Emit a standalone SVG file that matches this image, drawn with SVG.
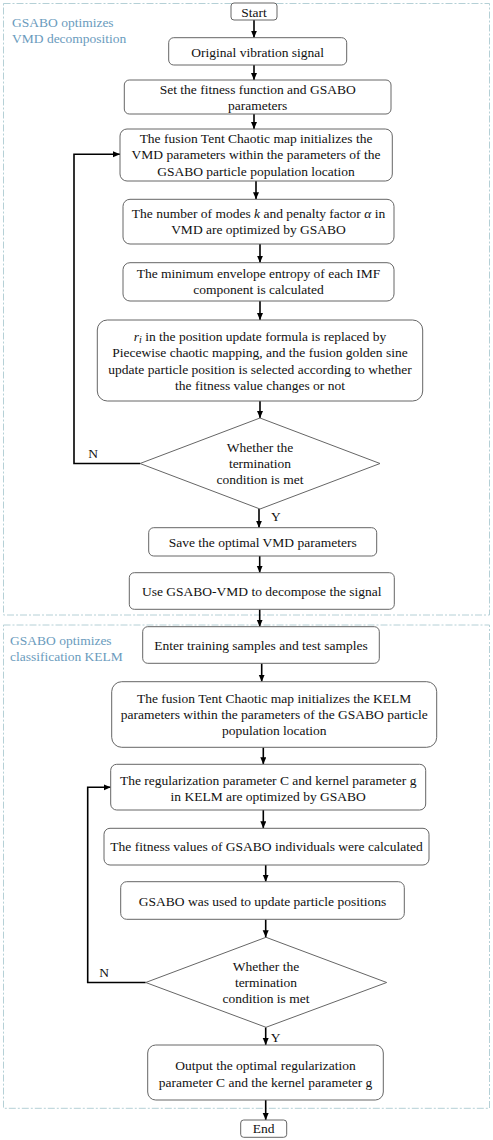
<svg xmlns="http://www.w3.org/2000/svg" width="493" height="1140" viewBox="0 0 493 1140">
<style>
.t{font-family:"Liberation Serif","Times New Roman",serif;font-size:13.5px;fill:#111;text-anchor:middle}
.lbl{font-family:"Liberation Serif","Times New Roman",serif;font-size:13.5px;fill:#6a9bbd}
.box{fill:#fff;stroke:#666;stroke-width:1}
.grp{fill:none;stroke:#b5d0d6;stroke-width:1;stroke-dasharray:7 2 2 2}
.c{fill:none;stroke:#000;stroke-width:1.6}
</style>
<defs>
<marker id="ah" markerUnits="userSpaceOnUse" markerWidth="8" markerHeight="8" refX="7" refY="3" orient="auto">
<path d="M0,0 L7,3 L0,6 z" fill="#000"/>
</marker>
</defs>
<rect fill="#fff" x="0" y="0" width="493" height="1140"/>
<g id="group1">
<rect class="grp" x="3.5" y="3.5" width="486" height="611.5"/>
<text class="lbl" x="12" y="27">GSABO optimizes</text>
<text class="lbl" x="12" y="43">VMD decomposition</text>
</g>
<g id="group2">
<rect class="grp" x="3.5" y="625" width="486" height="483.3"/>
<text class="lbl" x="10" y="645">GSABO optimizes</text>
<text class="lbl" x="10" y="661">classification KELM</text>
</g>
<g id="connectors">
<line class="c" x1="254" y1="20" x2="254" y2="37.7" marker-end="url(#ah)"/>
<line class="c" x1="254" y1="65" x2="254" y2="80" marker-end="url(#ah)"/>
<line class="c" x1="254" y1="114" x2="254" y2="129" marker-end="url(#ah)"/>
<line class="c" x1="256" y1="181" x2="256" y2="199.3" marker-end="url(#ah)"/>
<line class="c" x1="260" y1="244" x2="260" y2="262.7" marker-end="url(#ah)"/>
<line class="c" x1="260" y1="301" x2="260" y2="320" marker-end="url(#ah)"/>
<line class="c" x1="260" y1="401" x2="260" y2="418" marker-end="url(#ah)"/>
<line class="c" x1="259" y1="509" x2="259" y2="527.7" marker-end="url(#ah)"/>
<line class="c" x1="259.7" y1="556" x2="259.7" y2="572.7" marker-end="url(#ah)"/>
<line class="c" x1="259.7" y1="609.3" x2="259.7" y2="626.7" marker-end="url(#ah)"/>
<line class="c" x1="261.7" y1="663.3" x2="261.7" y2="681.7" marker-end="url(#ah)"/>
<line class="c" x1="263.3" y1="747.3" x2="263.3" y2="764.3" marker-end="url(#ah)"/>
<line class="c" x1="263.3" y1="810" x2="263.3" y2="828.3" marker-end="url(#ah)"/>
<line class="c" x1="265.7" y1="865" x2="265.7" y2="881.7" marker-end="url(#ah)"/>
<line class="c" x1="265.7" y1="919.3" x2="265.7" y2="937.3" marker-end="url(#ah)"/>
<line class="c" x1="265.7" y1="1027.3" x2="265.7" y2="1045" marker-end="url(#ah)"/>
<line class="c" x1="265.7" y1="1100" x2="265.7" y2="1120" marker-end="url(#ah)"/>
<polyline class="c" stroke-width="2" points="140,463.5 74,463.5 74,154.3 120,154.3" marker-end="url(#ah)"/>
<polyline class="c" stroke-width="2" points="145.7,982.5 87.7,982.5 87.7,787.3 110.7,787.3" marker-end="url(#ah)"/>
<text class="t" x="93" y="458.3">N</text>
<text class="t" x="271" y="521" style="text-anchor:start">Y</text>
<text class="t" x="104" y="976.7">N</text>
<text class="t" x="270.7" y="1042.3" style="text-anchor:start">Y</text>
</g>
<g id="start">
<rect class="box" x="231" y="3" width="46" height="17" rx="3"/>
<text class="t" x="254" y="16.5">Start</text>
</g>
<g id="n1">
<rect class="box" x="168.7" y="37.7" width="178" height="27.3" rx="5"/>
<text class="t" x="257.7" y="56.5">Original vibration signal</text>
</g>
<g id="n2">
<rect class="box" x="124.3" y="80" width="266.7" height="34" rx="5"/>
<text class="t" x="257.7" y="94">Set the fitness function and GSABO</text>
<text class="t" x="257.7" y="109.5">parameters</text>
</g>
<g id="n3">
<rect class="box" x="120" y="129" width="272.3" height="52" rx="7"/>
<text class="t" x="256" y="142.5">The fusion Tent Chaotic map initializes the</text>
<text class="t" x="256" y="159">VMD parameters within the parameters of the</text>
<text class="t" x="256" y="175.5">GSABO particle population location</text>
</g>
<g id="n4">
<rect class="box" x="123" y="199.3" width="271" height="44.7" rx="7"/>
<text class="t" x="258.5" y="218.3">The number of modes <tspan font-style="italic">k</tspan> and penalty factor <tspan font-style="italic">α</tspan> in</text>
<text class="t" x="258.5" y="234.3">VMD are optimized by GSABO</text>
</g>
<g id="n5">
<rect class="box" x="123" y="262.7" width="271" height="38.3" rx="7"/>
<text class="t" x="258.5" y="278.3">The minimum envelope entropy of each IMF</text>
<text class="t" x="258.5" y="294.3">component is calculated</text>
</g>
<g id="n6">
<rect class="box" x="97.3" y="320" width="325.4" height="81" rx="10"/>
<text class="t" x="260" y="340.7"><tspan font-style="italic">r</tspan><tspan font-style="italic" font-size="10px" dy="2">i</tspan><tspan dy="-2"> in the position update formula is replaced by</tspan></text>
<text class="t" x="260" y="357.3">Piecewise chaotic mapping, and the fusion golden sine</text>
<text class="t" x="260" y="374">update particle position is selected according to whether</text>
<text class="t" x="260" y="389.8">the fitness value changes or not</text>
</g>
<g id="d1">
<polygon class="box" points="260,418 380,463.5 260,509 140,463.5"/>
<text class="t" x="260" y="452.3">Whether the</text>
<text class="t" x="260" y="468.3">termination</text>
<text class="t" x="260" y="484.3">condition is met</text>
</g>
<g id="n7">
<rect class="box" x="148.7" y="527.7" width="228" height="28.3" rx="5"/>
<text class="t" x="262.7" y="546.5">Save the optimal VMD parameters</text>
</g>
<g id="n8">
<rect class="box" x="129.3" y="572.7" width="265" height="36.6" rx="5"/>
<text class="t" x="261.8" y="596">Use GSABO-VMD to decompose the signal</text>
</g>
<g id="n9">
<rect class="box" x="142.7" y="626.7" width="236.6" height="36.6" rx="5"/>
<text class="t" x="261" y="650">Enter training samples and test samples</text>
</g>
<g id="n10">
<rect class="box" x="111.7" y="681.7" width="325" height="65.6" rx="10"/>
<text class="t" x="274.2" y="702.7">The fusion Tent Chaotic map initializes the KELM</text>
<text class="t" x="274.2" y="719.3">parameters within the parameters of the GSABO particle</text>
<text class="t" x="274.2" y="735.3">population location</text>
</g>
<g id="n11">
<rect class="box" x="110.7" y="764.3" width="315" height="45.7" rx="6"/>
<text class="t" x="268.2" y="785">The regularization parameter C and kernel parameter g</text>
<text class="t" x="268.2" y="800.7">in KELM are optimized by GSABO</text>
</g>
<g id="n12">
<rect class="box" x="104" y="828.3" width="325" height="36.7" rx="6"/>
<text class="t" x="266.5" y="850.7">The fitness values of GSABO individuals were calculated</text>
</g>
<g id="n13">
<rect class="box" x="120.7" y="881.7" width="283.6" height="37.6" rx="6"/>
<text class="t" x="262.5" y="906">GSABO was used to update particle positions</text>
</g>
<g id="d2">
<polygon class="box" points="266,937.3 386.7,982.5 266,1027.3 145.7,982.5"/>
<text class="t" x="266" y="970.7">Whether the</text>
<text class="t" x="266" y="986.7">termination</text>
<text class="t" x="266" y="1003.3">condition is met</text>
</g>
<g id="n14">
<rect class="box" x="147.7" y="1045" width="235.6" height="55" rx="8"/>
<text class="t" x="265.5" y="1070">Output the optimal regularization</text>
<text class="t" x="265.5" y="1086.7">parameter C and the kernel parameter g</text>
</g>
<g id="end">
<rect class="box" x="240.7" y="1120" width="46" height="17.3" rx="3"/>
<text class="t" x="263.7" y="1133.3">End</text>
</g>
</svg>
